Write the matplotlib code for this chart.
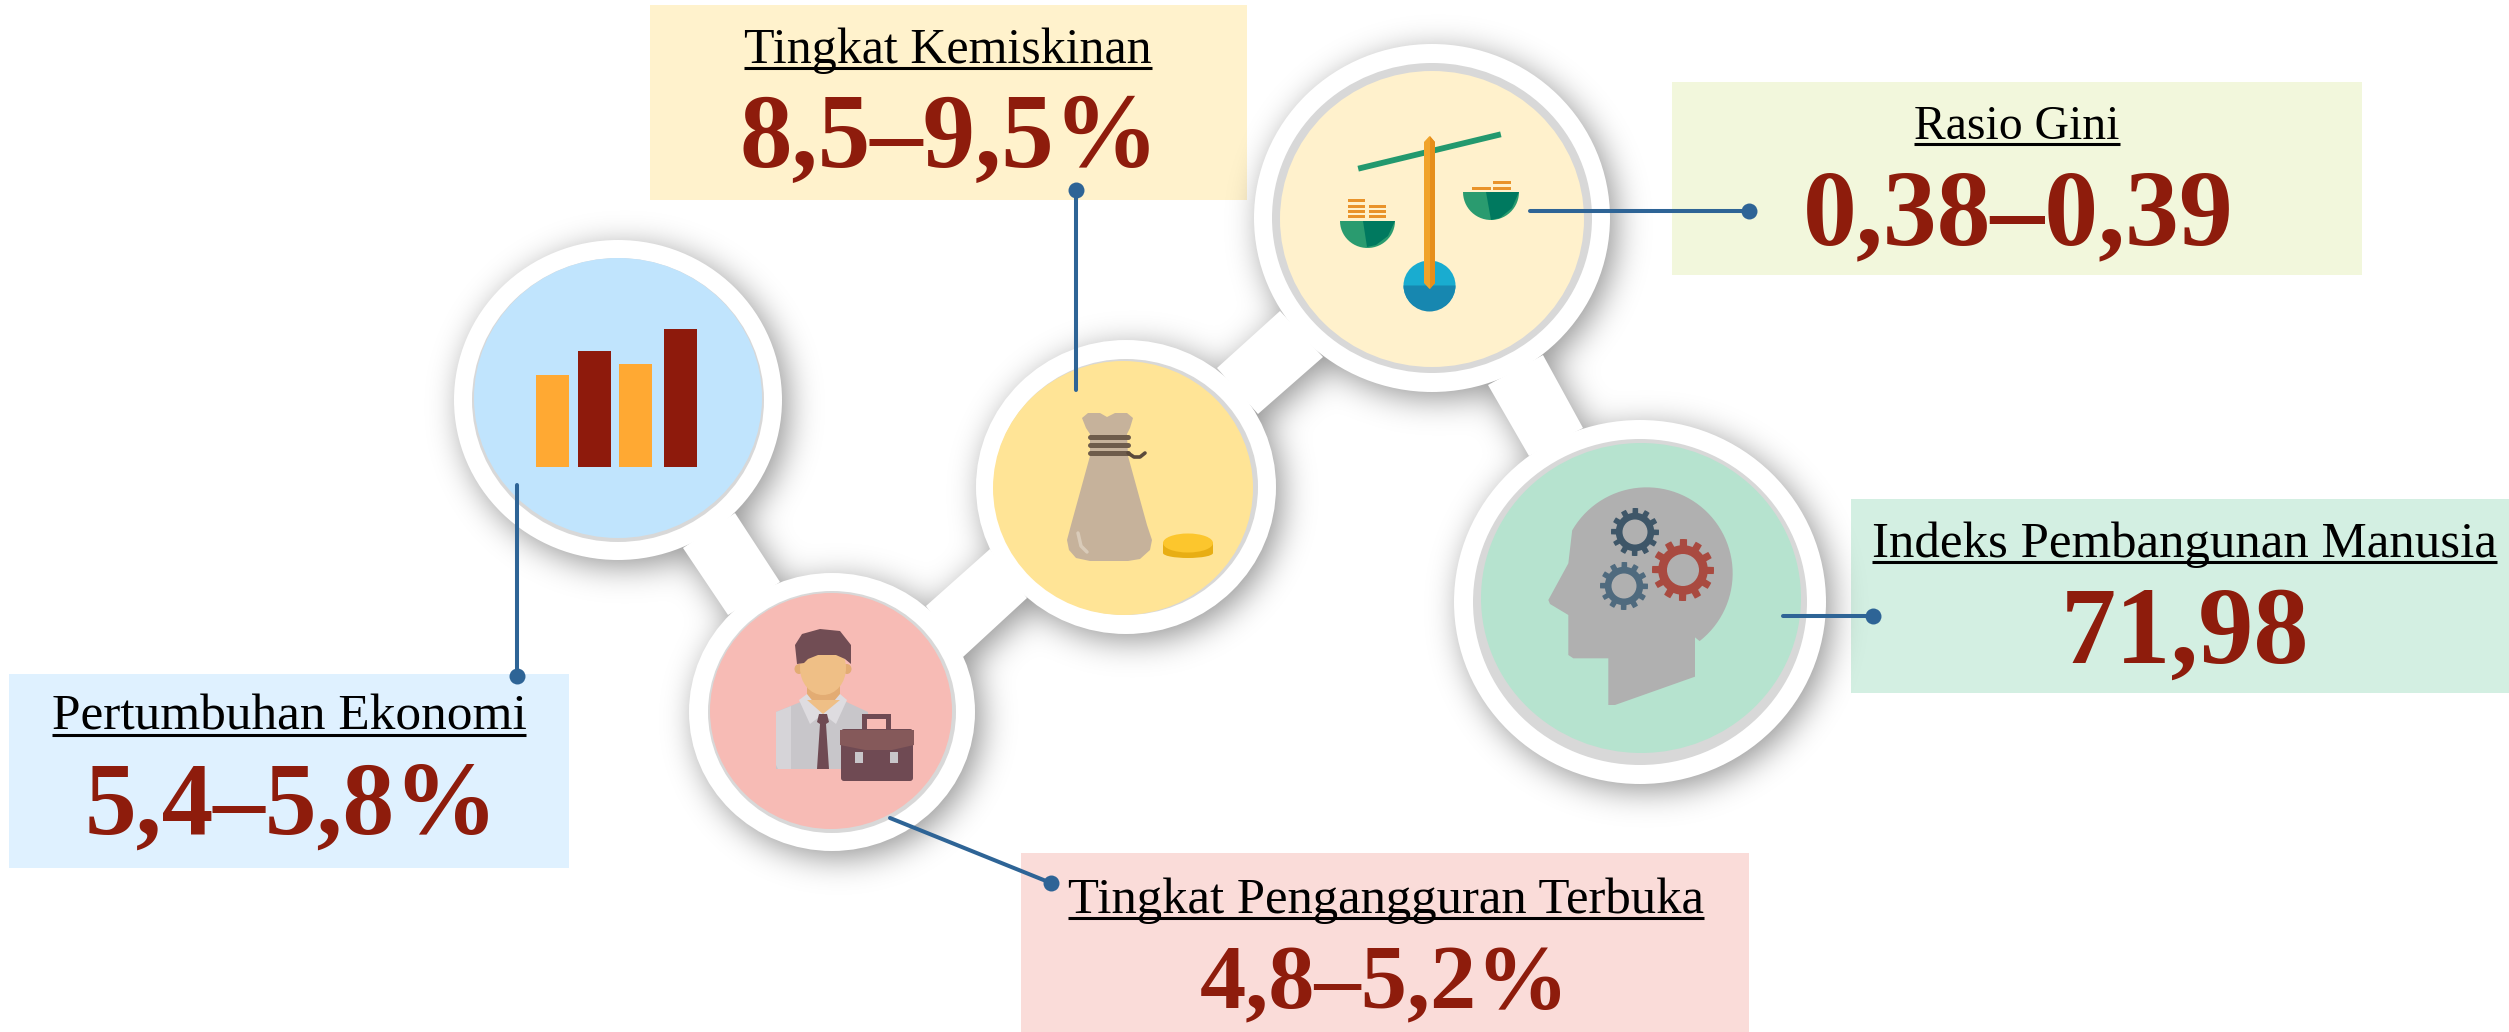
import matplotlib
matplotlib.use("Agg")
import matplotlib.pyplot as plt
import numpy as np
from matplotlib.patches import Ellipse, Polygon, Rectangle, FancyBboxPatch, Wedge
from matplotlib.path import Path

W, H = 2509, 1032

labels = ["Pertumbuhan Ekonomi", "Tingkat Pengangguran Terbuka", "Tingkat Kemiskinan", "Rasio Gini", "Indeks Pembangunan Manusia"]
values = ["5,4–5,8%", "4,8–5,2%", "8,5–9,5%", "0,38–0,39", "71,98"]
box_colors = ["#DFF1FF", "#FADCD9", "#FFF2CC", "#F2F7DC", "#D3EFE2"]
fill_colors = ["#C0E4FD", "#F7BBB5", "#FFE496", "#FFF1CC", "#B6E3CF"]
box_x0 = [9, 1021, 650, 1672, 1851]
box_x1 = [569, 1749, 1247, 2362, 2509]
box_y0 = [674, 853, 5, 82, 499]
box_y1 = [868, 1032, 200, 275, 693]
label_x = [289, 1386, 948, 2017, 2184]
label_y = [730, 913, 63, 139, 557]
label_pt = [37, 36.5, 36, 34.3, 36.6]
value_x = [291, 1385, 949, 2018, 2185]
value_y = [834, 1008, 167, 244, 663]
value_pt = [74.5, 66.5, 75.5, 77.5, 79.5]

# white discs, grey rings and coloured fills, centre x/y and radii in picture pixels
node_x = [618, 832, 1126, 1432, 1640]
node_y = [400, 712, 487, 218, 602]
node_rx = [164, 143, 150, 178, 186]
node_ry = [160, 139, 147, 174, 182]
ring_rx = [146, 124, 132, 160, 167]
ring_ry = [142, 121, 128, 155, 163]
fill_x = [618, 831, 1123, 1432, 1641]
fill_y = [398, 711, 488, 219, 598]
fill_rx = [144, 121, 130, 152, 160]
fill_ry = [140, 118, 127, 148, 155]

bands = [
    [(735, 513), (780, 582), (728, 615), (683, 548)],
    [(926, 606), (990, 549), (1027, 598), (963, 657)],
    [(1217, 368), (1280, 311), (1323, 357), (1258, 414)],
    [(1543, 355), (1583, 428), (1529, 456), (1488, 385)],
]

leader_x0 = [517, 890, 1076, 1530, 1783]
leader_y0 = [485, 818, 390, 211, 616]
leader_x1 = [517, 1051, 1076, 1749, 1873]
leader_y1 = [676, 883, 190, 211, 616]
leader_color = "#2E6496"

icon_bar_left = [536, 578, 619, 664]
icon_bar_top = [375, 351, 364, 329]
icon_bar_colors = ["#FFA933", "#8E1A0C", "#FFA933", "#8E1A0C"]

text_red = "#8E1C0C"

fig = plt.figure(figsize=(W/100, H/100), dpi=100)
ax = fig.add_axes([0, 0, 1, 1])
ax.set_xlim(0, W)
ax.set_ylim(H, 0)
ax.axis("off")

for i in range(5):
    ax.add_patch(Rectangle((box_x0[i], box_y0[i]), box_x1[i]-box_x0[i], box_y1[i]-box_y0[i],
                           color=box_colors[i], lw=0, zorder=1))

# soft shadow: mask of the white shapes, blurred with an fft gaussian
step = 2
gx, gy = np.meshgrid(np.arange(0, W, step), np.arange(0, H, step))
mask = np.zeros(gx.shape)
for i in range(5):
    mask[((gx-node_x[i])/node_rx[i])**2 + ((gy-node_y[i])/node_ry[i])**2 <= 1] = 1
pts = np.column_stack([gx.ravel(), gy.ravel()])
for b in bands:
    mask[Path(b).contains_points(pts).reshape(gx.shape)] = 1
sigma = 16.0/step
fy = np.fft.fftfreq(mask.shape[0])[:, None]
fx = np.fft.rfftfreq(mask.shape[1])[None, :]
blur = np.fft.irfft2(np.fft.rfft2(mask)*np.exp(-2*(np.pi*sigma)**2*(fx**2+fy**2)), s=mask.shape)
blur = np.roll(blur, (3, 3), axis=(0, 1))
shadow = np.zeros(mask.shape + (4,))
shadow[..., 3] = np.clip(blur, 0, 1)*0.42
ax.imshow(shadow, extent=(0, W, H, 0), zorder=2, interpolation="bilinear", aspect="auto")
ax.set_xlim(0, W)
ax.set_ylim(H, 0)

for b in bands:
    ax.add_patch(Polygon(b, closed=True, color="white", lw=0, zorder=3))
for i in range(5):
    ax.add_patch(Ellipse((node_x[i], node_y[i]), 2*node_rx[i], 2*node_ry[i], color="white", lw=0, zorder=3))
    ax.add_patch(Ellipse((node_x[i], node_y[i]), 2*ring_rx[i], 2*ring_ry[i], color="#D8D8D8", lw=0, zorder=4))
    ax.add_patch(Ellipse((fill_x[i], fill_y[i]), 2*fill_rx[i], 2*fill_ry[i], color=fill_colors[i], lw=0, zorder=5))

# icon 1, bars
ax.bar(icon_bar_left, [467-t for t in icon_bar_top], width=33, bottom=icon_bar_top,
       align="edge", color=icon_bar_colors, lw=0, zorder=6)


def poly(points, color, z=6):
    ax.add_patch(Polygon(points, closed=True, color=color, lw=0, zorder=z))


def ell(x, y, rx, ry, color, z=6):
    ax.add_patch(Ellipse((x, y), 2*rx, 2*ry, color=color, lw=0, zorder=z))


def box(x0, y0, x1, y1, color, z=6):
    ax.add_patch(Rectangle((x0, y0), x1-x0, y1-y0, color=color, lw=0, zorder=z))


def half(x0, x1, y, depth, n=30):
    # flat top bowl
    t = np.linspace(0, np.pi, n)
    cx, r = (x0+x1)/2, (x1-x0)/2
    return np.column_stack([cx + r*np.cos(t), y + depth*np.sin(t)])


def gear(x, y, r, hole, color, teeth=12):
    t = np.linspace(0, 2*np.pi, teeth*16, endpoint=False)
    rr = np.where(np.cos(teeth*t) > 0, r, r*0.8)
    poly(np.column_stack([x + rr*np.cos(t), y + rr*np.sin(t)]), color, 8)
    ell(x, y, hole, hole, "#B0B0B0", 9)


# icon 2, man with briefcase
poly([(776, 712), (808, 699), (840, 699), (868, 712), (868, 769), (776, 769)], "#C8C6CA")
poly([(776, 712), (791, 706), (791, 769), (778, 769), (776, 765)], "#D6D4D8", 7)
poly([(799, 700), (807, 694), (823, 714), (810, 724)], "#DEDCE0", 7)
poly([(847, 700), (840, 694), (823, 714), (836, 724)], "#DEDCE0", 7)
box(807, 685, 840, 704, "#E3AC73")
poly([(807, 700), (840, 700), (823, 714)], "#EFBF86", 7)
ell(799, 669, 4.5, 5, "#E3AC73")
ell(847, 669, 4.5, 5, "#E3AC73")
ell(823, 668, 23, 27, "#EFBF86", 7)
poly([(797, 664), (795, 645), (802, 634), (820, 629), (840, 631), (851, 645), (851, 664),
      (845, 659), (836, 655), (818, 655), (808, 659), (804, 663)], "#714D54", 8)
poly([(819, 714), (827, 714), (829, 722), (826, 724), (829, 769), (817, 769), (820, 724), (817, 722)], "#6F4A53", 8)
box(862, 714, 891, 732, "#6F4A53", 7)
box(867, 719, 886, 732, "#F7BBB5", 7)
ax.add_patch(FancyBboxPatch((842, 730), 70, 50, boxstyle="round,pad=1,rounding_size=3", color="#6F4A53", lw=0, zorder=8))
poly([(840, 730), (914, 730), (914, 745), (892, 750), (865, 750), (840, 745)], "#85595A", 9)
box(855, 752, 863, 763, "#C8C6CA", 10)
box(890, 752, 898, 763, "#C8C6CA", 10)

# icon 3, money bag and coin
t_bag = [(1082, 418), (1088, 413), (1100, 413), (1107, 417), (1115, 413), (1127, 413), (1133, 418),
         (1130, 428), (1127, 434), (1128, 456), (1147, 525), (1152, 540), (1150, 550), (1140, 559),
         (1128, 561), (1090, 561), (1076, 558), (1069, 550), (1067, 540), (1071, 525), (1090, 456),
         (1090, 434), (1086, 428)]
poly(t_bag, "#C6B29B")
ax.plot([1078, 1081, 1087], [533, 546, 552], color="#D9CBB9", lw=2.5, zorder=7, solid_capstyle="round")
for y in [436.5, 445, 453]:
    ax.plot([1090, 1128], [y, y], color="#6E5C4B", lw=3.6, zorder=7, solid_capstyle="round")
ax.plot([1128, 1134, 1140, 1145], [453, 457, 457, 453], color="#5B4A3B", lw=2.6, zorder=7, solid_capstyle="round")
box(1163, 543, 1213, 553, "#E8AE14")
ell(1188, 553, 25, 5, "#E8AE14")
ell(1188, 543, 25, 9.5, "#FCC62D", 7)

# icon 4, balance
ax.plot([1361, 1498], [168, 135], color="#23996E", lw=4.2, zorder=6)
ell(1429.5, 285.5, 26, 25, "#19ACD0")
ax.add_patch(Wedge((1429.5, 285.5), 26, 0, 180, color="#1787B0", lw=0, zorder=6))
poly([(1424, 142), (1429.5, 136), (1435, 142), (1435, 283), (1429.5, 289), (1424, 283)], "#F0A32A", 7)
poly([(1430, 136), (1435, 142), (1435, 283), (1430, 289)], "#E68E1A", 7)
poly(half(1340, 1395, 221, 27), "#2A9B6F")
poly([(1363, 221), (1395, 221), (1388, 236), (1376, 245), (1367, 247)], "#00795F", 7)
poly(half(1463, 1519, 192, 28), "#2A9B6F")
poly([(1486, 192), (1519, 192), (1512, 208), (1500, 218), (1491, 220)], "#00795F", 7)
for y in [199, 205, 210, 215]:
    box(1348, y, 1365, y+3, "#E9932A")
for y in [205, 210, 215]:
    box(1369, y, 1386, y+3, "#E9932A")
box(1472, 187, 1491, 189.5, "#E9932A")
for y in [181, 187]:
    box(1493, y, 1511, y+2.5, "#E9932A")

# icon 5, head with gears, crown is a round arc
a = np.radians(np.linspace(-150, 52, 60))
crown = np.column_stack([1430 + (650 + 258*np.cos(a))/3, 400 + (520 + 258*np.sin(a))/3])
rest = np.array([(795, 712), (795, 830), (555, 915), (535, 915), (535, 775), (430, 775), (415, 765),
                 (415, 645), (360, 612), (355, 600), (385, 545), (415, 490)])
rest = np.column_stack([1430 + rest[:, 0]/3, 400 + rest[:, 1]/3])
poly(np.vstack([crown, rest]), "#B0B0B0")
gear(1635, 532, 24, 12.5, "#3E5668")
gear(1624, 586, 24, 12.5, "#4F6A7E")
gear(1683, 570, 31, 16, "#A94A40")

# leaders
for i in range(5):
    ax.plot([leader_x0[i], leader_x1[i]], [leader_y0[i], leader_y1[i]], color=leader_color, lw=2.9,
            solid_capstyle="round", zorder=11)
    ax.plot(leader_x1[i], leader_y1[i], "o", color=leader_color, ms=11.5, mew=0, zorder=11)

# texts
font = ["Liberation Serif", "DejaVu Serif"]
fig.canvas.draw()
rend = fig.canvas.get_renderer()
for i in range(5):
    t = ax.text(label_x[i], label_y[i], labels[i], family=font, fontsize=label_pt[i], color="black",
                ha="center", va="baseline", zorder=12)
    ext = t.get_window_extent(rend)
    ax.plot([ext.x0, ext.x1], [label_y[i]+5, label_y[i]+5], color="black", lw=2.2, solid_capstyle="butt", zorder=12)
    ax.text(value_x[i], value_y[i], values[i], family=font, fontsize=value_pt[i], fontweight="bold",
            color=text_red, ha="center", va="baseline", zorder=12)

fig.savefig("out.png", dpi=100, facecolor="white")
